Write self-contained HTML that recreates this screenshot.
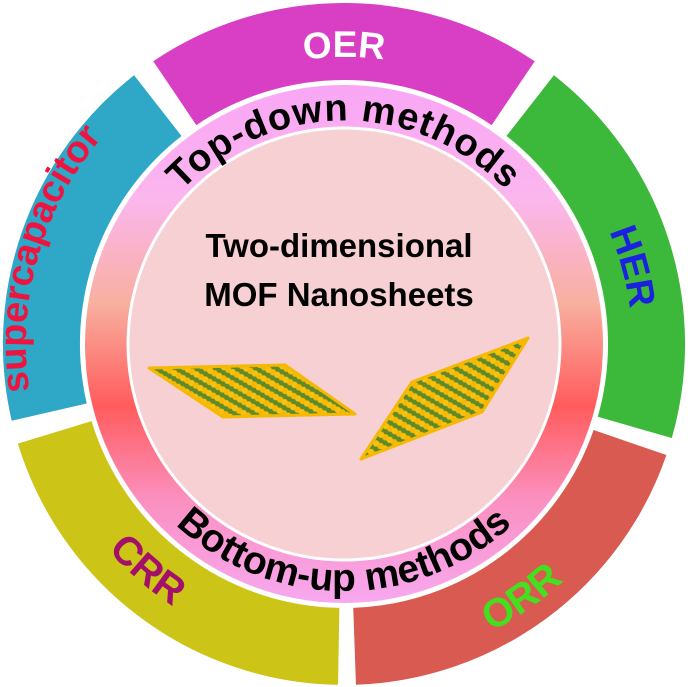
<!DOCTYPE html>
<html><head><meta charset="utf-8"><style>
html,body{margin:0;padding:0;background:#fff;}
svg{display:block;}
text{font-family:"Liberation Sans",Arial,sans-serif;font-weight:bold;}
</style></head><body>
<svg width="688" height="687" viewBox="0 0 688 687" xmlns="http://www.w3.org/2000/svg">
<defs>
<linearGradient id="ring" x1="0" y1="0" x2="0" y2="1">
<stop offset="0" stop-color="#f9a6f4"/>
<stop offset="0.22" stop-color="#fbb6ee"/>
<stop offset="0.42" stop-color="#f8b0a0"/>
<stop offset="0.62" stop-color="#ff5c5c"/>
<stop offset="0.8" stop-color="#fb90c0"/>
<stop offset="1" stop-color="#f8a8f0"/>
</linearGradient>
<pattern id="lat" width="10" height="10" patternUnits="userSpaceOnUse" patternTransform="rotate(30)">
<rect width="10" height="10" fill="#5e8a2a"/>
<circle cx="2.5" cy="6" r="3.2" fill="#f6b800"/>
<circle cx="7.5" cy="6" r="3.2" fill="#f8c010"/>
</pattern>
<path id="pTop" d="M134.3,267.7 A223,223 0 0 1 553.7,267.7"/>
<path id="pBot" d="M111.9,428.5 A247,247 0 0 0 576.1,428.5"/>
<path id="pOER" d="M74.3,245.8 A287,287 0 0 1 613.7,245.8"/>
<path id="pHER" d="M418.5,65.8 A288,288 0 0 1 547.6,547.6"/>
<path id="pSup" d="M115.2,564.9 A318,318 0 0 1 267.1,35.4"/>
<path id="pCRR" d="M36.7,284.3 A313,313 0 0 0 445.9,639.9"/>
<path id="pORR" d="M207.5,636.7 A323,323 0 0 0 665.8,315.8"/>
</defs>
<rect width="688" height="687" fill="#fff"/>
<g fill="none" stroke-width="77">
<path d="M49.2,412.1 A302.5,302.5 0 0 1 157.8,105.6" stroke="#2fa8c8"/>
<path d="M174.8,93.2 A302.5,302.5 0 0 1 513.2,93.2" stroke="#d83fc4"/>
<path d="M530.2,105.6 A302.5,302.5 0 0 1 634.8,427.4" stroke="#3cb93a"/>
<path d="M630,442.5 A302.5,302.5 0 0 1 354.6,646.3" stroke="#d85a50"/>
<path d="M338.7,646.4 A302.5,302.5 0 0 1 54.7,432.4" stroke="#cdc418"/>
</g>
<circle cx="344" cy="344" r="259" fill="url(#ring)"/>
<circle cx="344" cy="344" r="216" fill="#f6d0d2" stroke="#fff" stroke-width="3"/>
<text font-size="38" fill="#000" letter-spacing="1"><textPath href="#pTop" startOffset="50%" text-anchor="middle">Top-down methods</textPath></text>
<text font-size="39" fill="#000"><textPath href="#pBot" startOffset="50%" text-anchor="middle">Bottom-up methods</textPath></text>
<text font-size="37" fill="#fff"><textPath href="#pOER" startOffset="50%" text-anchor="middle">OER</textPath></text>
<text font-size="38" fill="#1a22e0"><textPath href="#pHER" startOffset="50%" text-anchor="middle">HER</textPath></text>
<text font-size="38" fill="#ee1440"><textPath href="#pSup" startOffset="50%" text-anchor="middle">supercapacitor</textPath></text>
<text font-size="40" fill="#a3106a"><textPath href="#pCRR" startOffset="50%" text-anchor="middle">CRR</textPath></text>
<text font-size="40" fill="#44e020"><textPath href="#pORR" startOffset="50%" text-anchor="middle">ORR</textPath></text>
<text x="339" y="257" font-size="33" text-anchor="middle" fill="#000">Two-dimensional</text>
<text x="339" y="306" font-size="33" text-anchor="middle" fill="#000">MOF Nanosheets</text>
<polygon points="149,368 285,365 355,414 223,417" fill="url(#lat)" stroke="#f6b800" stroke-width="3" stroke-linejoin="round"/>
<polygon points="361,459 412,382 528,338 482,412" fill="url(#lat)" stroke="#f6b800" stroke-width="3" stroke-linejoin="round"/>
</svg>
</body></html>
